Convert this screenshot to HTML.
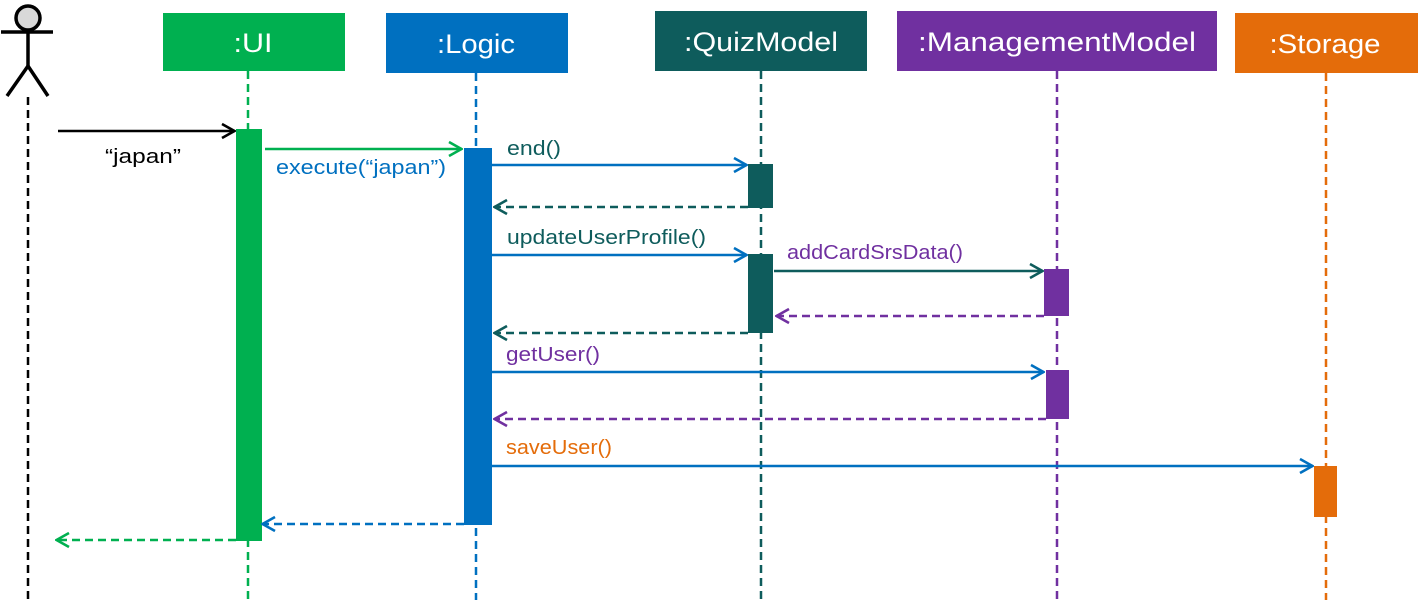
<!DOCTYPE html>
<html><head><meta charset="utf-8"><style>html,body{margin:0;padding:0;background:#fff}svg{display:block}</style></head>
<body>
<svg width="1418" height="603" viewBox="0 0 1418 603" xmlns="http://www.w3.org/2000/svg" font-family="Liberation Sans, sans-serif">
<defs>
<marker id="a" viewBox="0 0 16 18" refX="15" refY="9" markerWidth="16" markerHeight="18" markerUnits="userSpaceOnUse" orient="auto"><path d="M2,2 L14.5,9 L2,16" fill="none" stroke="context-stroke" stroke-width="2.6"/></marker>
</defs>
<circle cx="28" cy="18" r="12" fill="#d9d9d9" stroke="#000" stroke-width="3.5"/>
<line x1="1" y1="32" x2="53" y2="32" stroke="#000" stroke-width="3.5"/>
<line x1="28" y1="30" x2="28" y2="66" stroke="#000" stroke-width="3.5"/>
<path d="M7,96 L28,66 L48,96" fill="none" stroke="#000" stroke-width="3.5"/>
<rect x="163" y="13" width="182" height="58" fill="#00B050"/>
<text x="253" y="52" font-size="27" fill="#fff" text-anchor="middle" textLength="39" lengthAdjust="spacingAndGlyphs">:UI</text>
<rect x="386" y="13" width="182" height="60" fill="#0070C0"/>
<text x="476" y="53" font-size="27" fill="#fff" text-anchor="middle" textLength="78" lengthAdjust="spacingAndGlyphs">:Logic</text>
<rect x="655" y="11" width="212" height="60" fill="#0E5C5C"/>
<text x="761" y="51" font-size="27" fill="#fff" text-anchor="middle" textLength="154" lengthAdjust="spacingAndGlyphs">:QuizModel</text>
<rect x="897" y="11" width="320" height="60" fill="#7030A0"/>
<text x="1057" y="51" font-size="27" fill="#fff" text-anchor="middle" textLength="278" lengthAdjust="spacingAndGlyphs">:ManagementModel</text>
<rect x="1235" y="13" width="183" height="60" fill="#E46C0A"/>
<text x="1325" y="53" font-size="27" fill="#fff" text-anchor="middle" textLength="111" lengthAdjust="spacingAndGlyphs">:Storage</text>
<g stroke-width="2.5" stroke-dasharray="8,5" fill="none">
<line x1="28" y1="97" x2="28" y2="603" stroke="#000"/>
<line x1="248" y1="71" x2="248" y2="600" stroke="#00B050"/>
<line x1="476" y1="73" x2="476" y2="600" stroke="#0070C0"/>
<line x1="761" y1="71" x2="761" y2="603" stroke="#0E5C5C"/>
<line x1="1057" y1="71" x2="1057" y2="600" stroke="#7030A0"/>
<line x1="1326" y1="73" x2="1326" y2="600" stroke="#E46C0A"/>
</g>
<rect x="236" y="129" width="26" height="412" fill="#00B050"/>
<rect x="464" y="148" width="28" height="377" fill="#0070C0"/>
<rect x="748" y="164" width="25" height="44" fill="#0E5C5C"/>
<rect x="748" y="254" width="25" height="79" fill="#0E5C5C"/>
<rect x="1044" y="269" width="25" height="47" fill="#7030A0"/>
<rect x="1046" y="370" width="23" height="49" fill="#7030A0"/>
<rect x="1314" y="466" width="23" height="51" fill="#E46C0A"/>
<g stroke-width="2.5" fill="none">
<line x1="58" y1="131" x2="235" y2="131" stroke="#000" marker-end="url(#a)"/>
<line x1="265" y1="149" x2="462" y2="149" stroke="#00B050" marker-end="url(#a)"/>
<line x1="492" y1="165" x2="747" y2="165" stroke="#0070C0" marker-end="url(#a)"/>
<line x1="748" y1="207" x2="494" y2="207" stroke="#0E5C5C" stroke-dasharray="8,5" marker-end="url(#a)"/>
<line x1="492" y1="255" x2="747" y2="255" stroke="#0070C0" marker-end="url(#a)"/>
<line x1="774" y1="271" x2="1043" y2="271" stroke="#0E5C5C" marker-end="url(#a)"/>
<line x1="1044" y1="316" x2="776" y2="316" stroke="#7030A0" stroke-dasharray="8,5" marker-end="url(#a)"/>
<line x1="748" y1="333" x2="494" y2="333" stroke="#0E5C5C" stroke-dasharray="8,5" marker-end="url(#a)"/>
<line x1="492" y1="372" x2="1044" y2="372" stroke="#0070C0" marker-end="url(#a)"/>
<line x1="1046" y1="419" x2="494" y2="419" stroke="#7030A0" stroke-dasharray="8,5" marker-end="url(#a)"/>
<line x1="492" y1="466" x2="1313" y2="466" stroke="#0070C0" marker-end="url(#a)"/>
<line x1="464" y1="524" x2="262" y2="524" stroke="#0070C0" stroke-dasharray="8,5" marker-end="url(#a)"/>
<line x1="236" y1="540" x2="56" y2="540" stroke="#00B050" stroke-dasharray="8,5" marker-end="url(#a)"/>
</g>
<g font-size="20">
<text x="105" y="163" fill="#000" textLength="76" lengthAdjust="spacingAndGlyphs">“japan”</text>
<text x="276" y="174" fill="#0070C0" textLength="170" lengthAdjust="spacingAndGlyphs">execute(“japan”)</text>
<text x="507" y="155" fill="#0E5C5C" textLength="54" lengthAdjust="spacingAndGlyphs">end()</text>
<text x="507" y="244" fill="#0E5C5C" textLength="199" lengthAdjust="spacingAndGlyphs">updateUserProfile()</text>
<text x="787" y="259" fill="#7030A0" textLength="176" lengthAdjust="spacingAndGlyphs">addCardSrsData()</text>
<text x="506" y="361" fill="#7030A0" textLength="94" lengthAdjust="spacingAndGlyphs">getUser()</text>
<text x="506" y="454" fill="#E46C0A" textLength="106" lengthAdjust="spacingAndGlyphs">saveUser()</text>
</g>
</svg>
</body></html>
